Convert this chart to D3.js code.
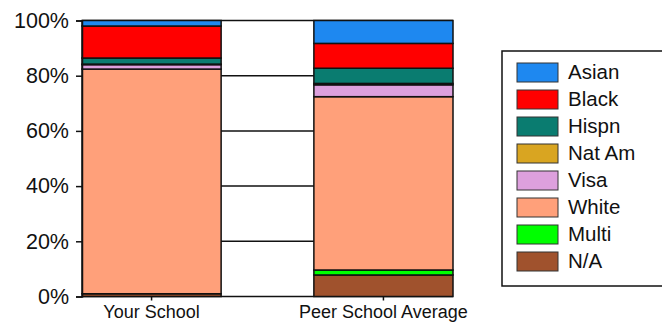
<!DOCTYPE html>
<html><head><meta charset="utf-8">
<script src="https://cdn.jsdelivr.net/npm/d3@7"></script>
<style>body{margin:0;background:#fff;overflow:hidden}svg{display:block}text{font-family:"Liberation Sans",Arial,sans-serif;fill:#111}</style>
</head><body><svg id="c" width="662" height="325"></svg>
<script>
const categories = ["Your School", "Peer School Average"];
const groups = ["Asian", "Black", "Hispn", "Nat Am", "Visa", "White", "Multi", "N/A"];
const colors = ["#1E88F0", "#FF0000", "#0A7C70", "#D9A521", "#DDA0DD", "#FFA07A", "#00FF00", "#A0522D"];
const asian  = [2.0, 8.3];
const black  = [11.6, 9.0];
const hispn  = [2.2, 5.5];
const natam  = [0.2, 0.5];
const visa   = [1.6, 4.3];
const white  = [81.4, 62.8];
const multi  = [0.0, 1.8];
const na     = [1.0, 7.8];
const yTicks = [0, 20, 40, 60, 80, 100];

const seriesArrays = [asian, black, hispn, natam, visa, white, multi, na];
const rows = categories.map((c, i) => {
  const r = {cat: c};
  groups.forEach((g, j) => r[g] = seriesArrays[j][i]);
  return r;
});
const stackKeys = groups.slice().reverse();
const stacked = d3.stack().keys(stackKeys)(rows);
const color = d3.scaleOrdinal().domain(groups).range(colors);

const svg = d3.select("#c");
const x = d3.scaleBand().domain(categories).range([82, 453]).paddingInner(0.4).paddingOuter(0);
const y = d3.scaleLinear().domain([0, 100]).range([296.5, 20.5]);

// gridlines
svg.append("g").selectAll("line").data(yTicks).join("line")
  .attr("x1", 82).attr("x2", 453)
  .attr("y1", d => y(d)).attr("y2", d => y(d))
  .attr("stroke", "#111").attr("stroke-width", 1.5);

// bars
svg.append("g").selectAll("g").data(stacked).join("g")
  .attr("fill", d => color(d.key))
  .selectAll("rect").data(d => d).join("rect")
  .attr("x", d => x(d.data.cat))
  .attr("width", x.bandwidth())
  .attr("y", d => y(d[1]))
  .attr("height", d => y(d[0]) - y(d[1]))
  .attr("stroke", "#111").attr("stroke-width", 1.5);

// y axis
const yAxis = d3.axisLeft(y).tickValues(yTicks).tickFormat(d => d + "%").tickSize(6).tickPadding(7);
const ya = svg.append("g").attr("transform", "translate(82,0)").call(yAxis);
ya.select(".domain").attr("stroke", "#111").attr("stroke-width", 1.5);
ya.selectAll(".tick line").attr("stroke", "#111").attr("stroke-width", 1.5);
ya.selectAll(".tick text").style("font-size", "21.5px").style("font-family", "Liberation Sans, Arial, sans-serif").attr("fill", "#111");

// x axis
const xAxis = d3.axisBottom(x).tickSize(4).tickPadding(5);
const xa = svg.append("g").attr("transform", "translate(0,296.5)").call(xAxis);
xa.select(".domain").remove();
xa.selectAll(".tick line").attr("stroke", "#111").attr("stroke-width", 1.5);
xa.selectAll(".tick text").style("font-size", "18px").style("font-family", "Liberation Sans, Arial, sans-serif").attr("fill", "#111");

// legend
const lg = svg.append("g");
lg.append("rect").attr("x", 502).attr("y", 51).attr("width", 300).attr("height", 235)
  .attr("fill", "#fff").attr("stroke", "#111").attr("stroke-width", 1.5);
const item = lg.selectAll("g.it").data(groups).join("g").attr("class", "it")
  .attr("transform", (d, i) => `translate(0,${63 + i * 27})`);
item.append("rect").attr("x", 517).attr("y", 0).attr("width", 41).attr("height", 19)
  .attr("fill", d => color(d)).attr("stroke", "#333").attr("stroke-width", 1);
item.append("text").attr("x", 568).attr("y", 16).style("font-size", "20.5px").text(d => d);
</script></body></html>
